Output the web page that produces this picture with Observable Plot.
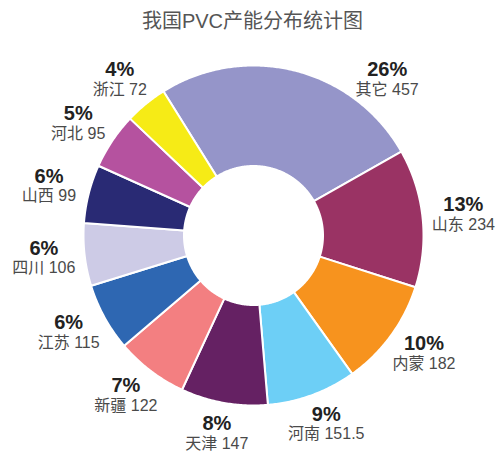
<!DOCTYPE html>
<html><head><meta charset="utf-8">
<script src="https://cdn.jsdelivr.net/npm/d3@7"></script>
<script src="https://cdn.jsdelivr.net/npm/@observablehq/plot@0.6"></script>
<style>
body{margin:0;background:#fff;}
#title{height:40px;width:501px;text-align:center;font:20px "Liberation Sans","Noto Sans CJK SC",sans-serif;color:#555;line-height:42px;padding-left:4px;box-sizing:border-box}
#chart svg{display:block}
</style></head><body>
<div id="title">我国PVC产能分布统计图</div>
<div id="chart"></div>
<script>
const names = ["其它","山东","内蒙","河南","天津","新疆","江苏","四川","山西","河北","浙江"];
const values = [457,234,182,151.5,147,122,115,106,99,95,72];
const colors = ["#9595c9","#9a3364","#f7931e","#6dcff6","#652163","#f37f81","#2e67b2","#cdcbe6","#292a74","#b5529f","#f6eb16"];

const total = d3.sum(values);
const R = 170, r = 69.5, Lx = 211, Ly = 201, maxLabelY = 155.5;
const start = -32 * Math.PI / 180;
const step = 0.5 * Math.PI / 180;
let acc = 0;
const slicePts = [];
const labels = [];
names.forEach((n, i) => {
  const a0 = start + acc / total * 2 * Math.PI;
  acc += values[i];
  const a1 = start + acc / total * 2 * Math.PI;
  const steps = Math.max(2, Math.ceil((a1 - a0) / step));
  for (let k = 0; k <= steps; k++) {
    const a = a0 + (a1 - a0) * k / steps;
    slicePts.push({name: n, x: R * Math.sin(a), y: R * Math.cos(a)});
  }
  for (let k = steps; k >= 0; k--) {
    const a = a0 + (a1 - a0) * k / steps;
    slicePts.push({name: n, x: r * Math.sin(a), y: r * Math.cos(a)});
  }
  const mid = (a0 + a1) / 2;
  let lx = Lx * Math.sin(mid), ly = Ly * Math.cos(mid);
  if (ly > maxLabelY) { ly = maxLabelY; lx = Math.sign(lx) * Lx * Math.sqrt(1 - (ly / Ly) ** 2); }
  labels.push({name: n, pct: Math.round(values[i] / total * 100) + "%", text: n + " " + values[i], lx, ly});
});

const chart = Plot.plot({
  width: 501, height: 412, margin: 0,
  x: {domain: [-253, 248], axis: null},
  y: {domain: [-217, 195], axis: null},
  color: {domain: names, range: colors},
  style: {fontFamily: '"Liberation Sans","Noto Sans CJK SC",sans-serif', background: "white"},
  marks: [
    Plot.line(slicePts, {x: "x", y: "y", z: "name", fill: "name", stroke: "white", strokeWidth: 2, curve: "linear-closed"}),
    Plot.text(labels, {x: "lx", y: "ly", text: "pct", dy: -10, fontSize: 20, fontWeight: "bold", fill: "#222"}),
    Plot.text(labels, {x: "lx", y: "ly", text: "text", dy: 10, fontSize: 16, fill: "#4a4a4a"})
  ]
});
document.getElementById("chart").appendChild(chart);
</script>
</body></html>
